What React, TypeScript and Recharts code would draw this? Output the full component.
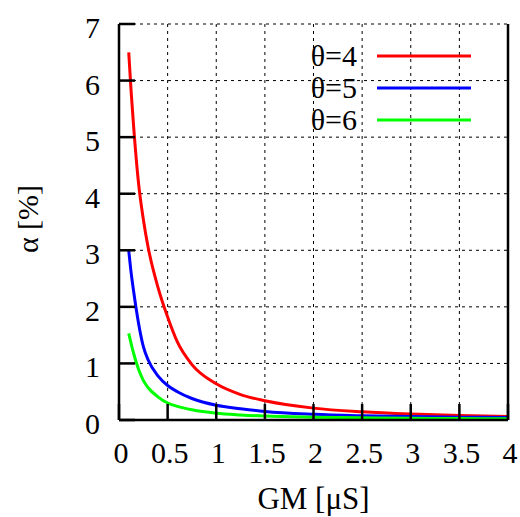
import { LineChart, Line, XAxis, YAxis, CartesianGrid, Legend } from "recharts";

const gm = [0.1, 0.125, 0.15, 0.2, 0.25, 0.3, 0.4, 0.5, 0.6, 0.75, 1, 1.25, 1.5, 2, 2.5, 3, 3.5, 4];
const theta4 = [6.5, 5.8, 5.2, 4.2, 3.55, 3.05, 2.35, 1.82, 1.38, 0.98, 0.64, 0.45, 0.34, 0.21, 0.145, 0.105, 0.078, 0.06];
const theta5 = [3.0, 2.6, 2.28, 1.72, 1.3, 1.06, 0.78, 0.61, 0.5, 0.38, 0.26, 0.2, 0.15, 0.1, 0.075, 0.06, 0.05, 0.042];
const theta6 = [1.53, 1.35, 1.18, 0.9, 0.7, 0.57, 0.41, 0.3, 0.24, 0.18, 0.12, 0.09, 0.07, 0.05, 0.038, 0.03, 0.025, 0.021];

const xTicks = [0, 0.5, 1, 1.5, 2, 2.5, 3, 3.5, 4];
const yTicks = [0, 1, 2, 3, 4, 5, 6, 7];

const series = [
  { key: "t4", name: "θ=4", color: "#ff0000" },
  { key: "t5", name: "θ=5", color: "#0000ff" },
  { key: "t6", name: "θ=6", color: "#00ff00" },
];

const data = gm.map((x, i) => ({ x, t4: theta4[i], t5: theta5[i], t6: theta6[i] }));

const FONT = '"Liberation Serif", "Times New Roman", serif';
const axisStroke = { stroke: "#000", strokeWidth: 2.5 };

function XTick({ x, y, payload }: any) {
  return (
    <text x={x} y={y} dx={2} dy="0.68em" textAnchor="middle" fontFamily={FONT} fontSize={30} fill="#000">
      {payload.value}
    </text>
  );
}

function YTick({ x, y, payload }: any) {
  return (
    <text x={x} y={y} dy={14} textAnchor="end" fontFamily={FONT} fontSize={30} fill="#000">
      {payload.value}
    </text>
  );
}

function LegendBox({ payload }: any) {
  return (
    <div style={{ fontFamily: FONT, fontSize: 30 }}>
      {(payload || []).map((p: any) => (
        <div
          key={p.value}
          style={{ display: "flex", alignItems: "center", justifyContent: "flex-end", height: 32, lineHeight: "32px" }}
        >
          <span style={{ marginRight: 20 }}>{p.value}</span>
          <svg width={94} height={6}>
            <line x1={0} y1={3} x2={94} y2={3} stroke={p.color} strokeWidth={3} />
          </svg>
        </div>
      ))}
    </div>
  );
}

export default function App() {
  return (
    <div style={{ position: "absolute", left: 0, top: 0, background: "#fff" }}>
      <LineChart width={520} height={517} data={data} margin={{ top: 24, right: 0, bottom: 0, left: 0 }}>
        <CartesianGrid stroke="#000" strokeWidth={1} strokeDasharray="3 4" />
        <XAxis
          dataKey="x"
          type="number"
          domain={[0, 4]}
          ticks={xTicks}
          height={97}
          axisLine={axisStroke}
          tickLine={axisStroke}
          tickSize={-16}
          tickMargin={39}
          tick={<XTick />}
          interval={0}
          label={{
            content: ({ viewBox }: any) => (
              <text
                x={viewBox.x + viewBox.width / 2}
                y={viewBox.y + 89}
                textAnchor="middle"
                fontFamily={FONT}
                fontSize={31}
                fill="#000"
              >
                GM [μS]
              </text>
            ),
          }}
        />
        <XAxis
          xAxisId="top"
          orientation="top"
          type="number"
          domain={[0, 4]}
          ticks={xTicks}
          height={0}
          axisLine={axisStroke}
          tickLine={axisStroke}
          tickSize={-16}
          tick={false}
          interval={0}
        />
        <YAxis
          type="number"
          domain={[0, 7]}
          ticks={yTicks}
          width={119}
          axisLine={axisStroke}
          tickLine={axisStroke}
          tickSize={-16}
          tickMargin={35}
          tick={<YTick />}
          interval={0}
          label={{
            content: ({ viewBox }: any) => {
              const cx = viewBox.x + 27;
              const cy = viewBox.y + viewBox.height / 2 - 3;
              return (
                <text
                  x={cx}
                  y={cy}
                  transform={`rotate(-90, ${cx}, ${cy})`}
                  textAnchor="middle"
                  dominantBaseline="central"
                  fontFamily={FONT}
                  fontSize={30}
                  fill="#000"
                >
                  α [%]
                </text>
              );
            },
          }}
        />
        <YAxis
          yAxisId="right"
          orientation="right"
          type="number"
          domain={[0, 7]}
          ticks={yTicks}
          width={12}
          axisLine={axisStroke}
          tickLine={axisStroke}
          tickSize={-16}
          tick={false}
          interval={0}
        />
        <Legend
          layout="vertical"
          align="center"
          verticalAlign="middle"
          content={<LegendBox />}
          wrapperStyle={{ position: "absolute", top: 40, left: 281, width: 190 }}
        />
        {series.map((s) => (
          <Line
            key={s.key}
            type="monotone"
            dataKey={s.key}
            name={s.name}
            stroke={s.color}
            strokeWidth={3}
            dot={false}
            isAnimationActive={false}
          />
        ))}
      </LineChart>
    </div>
  );
}
